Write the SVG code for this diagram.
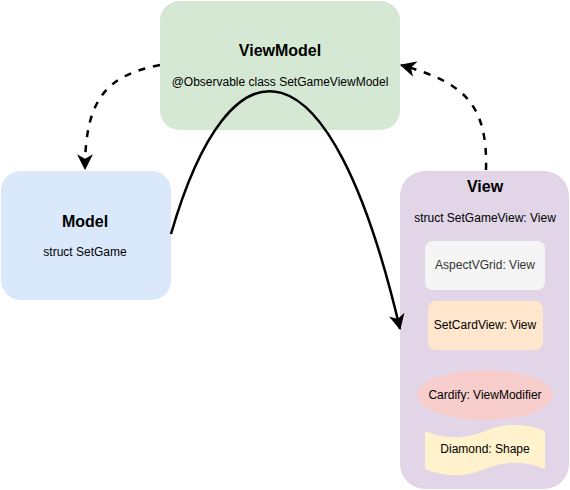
<svg xmlns="http://www.w3.org/2000/svg" width="570" height="490" viewBox="0 0 570 490">
  <style>
    .t { font-family: "Liberation Sans", Arial, Helvetica, sans-serif; text-anchor: middle; fill: #000; }
    .title { font-size: 16px; font-weight: bold; }
    .sub { font-size: 12px; }
    .edge { fill: none; stroke: #000; stroke-width: 2.5; }
    .dash { stroke-dasharray: 7 8; }
  </style>
  <defs>
    <marker id="arrow" markerUnits="userSpaceOnUse" markerWidth="16" markerHeight="16" viewBox="0 0 14 14" refX="13" refY="7" orient="auto">
      <path d="M0,0 L14,7 L0,14 L4,7 Z" fill="#000"/>
    </marker>
  </defs>

  <g id="viewmodel">
    <rect x="160" y="1" width="240" height="129" rx="19.5" fill="#d5e8d4"/>
    <text class="t title" x="280" y="56">ViewModel</text>
    <text class="t sub" x="280" y="86">@Observable class SetGameViewModel</text>
  </g>

  <g id="model">
    <rect x="1" y="171" width="170" height="129" rx="19.5" fill="#dae8fc"/>
    <text class="t title" x="85" y="227">Model</text>
    <text class="t sub" x="85" y="256">struct SetGame</text>
  </g>

  <g id="view">
    <rect x="400" y="171" width="169" height="318" rx="25" fill="#e1d5e7"/>
    <text class="t title" x="485" y="192">View</text>
    <text class="t sub" x="485" y="222">struct SetGameView: View</text>
  </g>

  <g id="aspectvgrid">
    <rect x="425" y="241" width="120" height="49" rx="7.5" fill="#f5f5f5"/>
    <text class="t sub" x="485" y="269" style="fill:#333333">AspectVGrid: View</text>
  </g>

  <g id="setcardview">
    <rect x="428" y="301" width="115" height="49" rx="7.5" fill="#ffe6cc"/>
    <text class="t sub" x="485" y="329">SetCardView: View</text>
  </g>

  <g id="cardify">
    <ellipse cx="485" cy="395" rx="68" ry="25" fill="#f8cecc"/>
    <text class="t sub" x="485" y="399">Cardify: ViewModifier</text>
  </g>

  <g id="diamond">
    <path d="M425,431 Q455,443.6 485,431 Q515,418.4 545,431 L545,469 Q515,456.4 485,469 Q455,481.6 425,469 Z" fill="#fff2cc"/>
    <text class="t sub" x="485" y="453">Diamond: Shape</text>
  </g>

  <g id="connectors">
    <path class="edge dash" d="M160,65 C110,75 85,95 85,169" marker-end="url(#arrow)"/>
    <path class="edge dash" d="M486,170 C488,100 460,82 401,65" marker-end="url(#arrow)"/>
    <path class="edge" d="M171,234 C230,30 330,30 400,329" marker-end="url(#arrow)"/>
  </g>
</svg>
